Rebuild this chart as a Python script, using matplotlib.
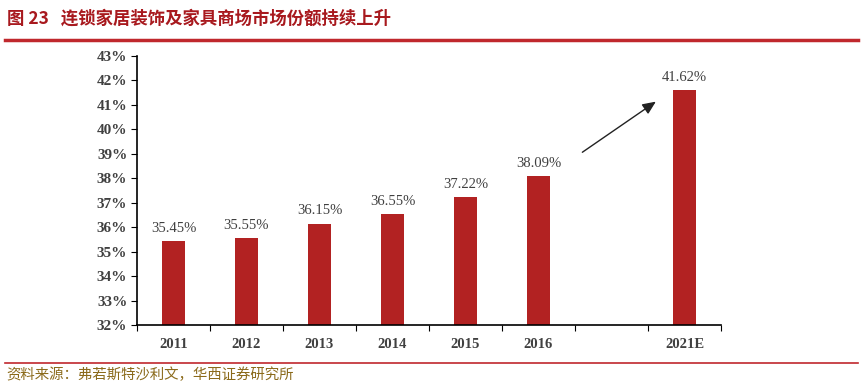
import matplotlib.pyplot as plt
import numpy as np

plt.rcParams['font.family'] = ['Noto Sans CJK SC', 'DejaVu Sans']

years = ["2011", "2012", "2013", "2014", "2015", "2016", "", "2021E"]
share = [35.45, 35.55, 36.15, 36.55, 37.22, 38.09, None, 41.62]
yticks = list(range(32, 44))

title = "图 23   连锁家居装饰及家具商场市场份额持续上升"
source = "资料来源：弗若斯特沙利文，华西证券研究所"

bar_color = "#B22222"
red = "#C0282D"
serif = "Liberation Serif"

fig = plt.figure(figsize=(8.63, 3.89), dpi=100)
ax = fig.add_axes([0.1587, 0.1645, 0.6767, 0.6915])

x = np.arange(len(years))
for xi, v in zip(x, share):
    if v is None:
        continue
    ax.bar(xi, v - 32, bottom=32, width=0.32, color=bar_color)
    ax.text(xi, v + 0.25, f"{v:.2f}%", ha="center", va="bottom",
            fontsize=10.5, family=serif, color="#404040")

ax.set_xlim(-0.5, len(years) - 0.5)
ax.set_ylim(32, 43)
ax.set_yticks(yticks)
ax.set_yticklabels([f"{t}%" for t in yticks], family=serif,
                   fontweight="bold", fontsize=11, color="#404040")
ax.set_xticks(np.arange(len(years) + 1) - 0.5)
ax.set_xticklabels([])
ax.set_xticks(x, minor=True)
ax.set_xticklabels(years, minor=True, family=serif, fontweight="bold",
                   fontsize=10.5, color="#404040")
ax.tick_params(axis="x", which="minor", length=0, pad=9)
ax.tick_params(axis="x", which="major", length=4, direction="out")
ax.tick_params(axis="y", length=4, direction="out", pad=3)
for s in ("top", "right"):
    ax.spines[s].set_visible(False)
for s in ("left", "bottom"):
    ax.spines[s].set_linewidth(1.2)

ax.annotate("", xy=(6.64, 41.2), xytext=(5.57, 39.0),
            arrowprops=dict(arrowstyle="-|>,head_length=0.8,head_width=0.35",
                            color="#222222", lw=1))

fig.text(0.008, 0.952, title, fontsize=12.5, fontweight="bold",
         color="#A8191E", va="center", ha="left")
fig.add_artist(plt.Line2D([0.006, 0.994], [0.897, 0.897],
                          transform=fig.transFigure, color=red, lw=2.5))
fig.add_artist(plt.Line2D([0.006, 0.994], [0.068, 0.068],
                          transform=fig.transFigure, color=red, lw=1.2))
fig.text(0.007, 0.037, source, fontsize=10.4, color="#8B6A1A",
         va="center", ha="left")

fig.savefig("out.png", dpi=100)
